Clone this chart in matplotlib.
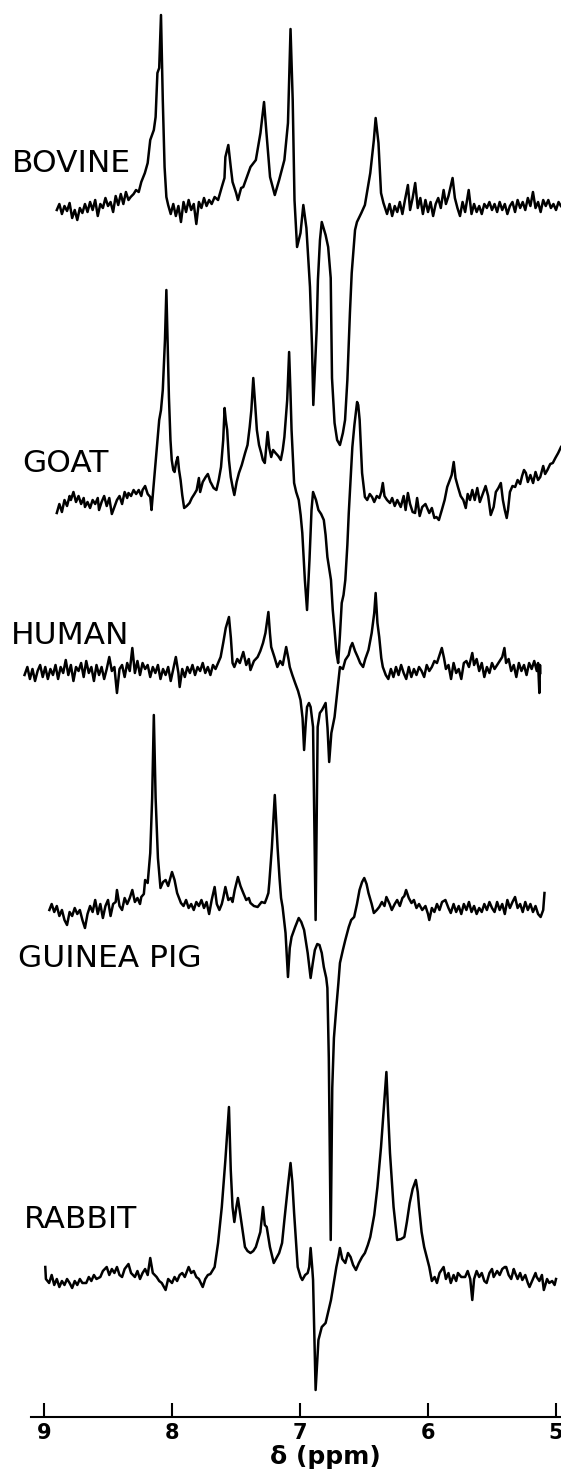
import matplotlib
matplotlib.use("Agg")
import matplotlib.pyplot as plt
import numpy as np

# ---- data: (ppm, intensity relative to each trace's own baseline) ----
bovine = [(8.90,-2),(8.88,4),(8.86,-6),(8.84,2),(8.82,-3),(8.80,5),(8.78,-10),(8.76,-2),(8.74,-12),(8.72,0),
 (8.70,-5),(8.68,4),(8.66,-4),(8.64,6),(8.62,-2),(8.60,8),(8.58,-8),(8.56,4),(8.54,0),(8.52,10),(8.50,2),(8.48,6),
 (8.46,-4),(8.44,12),(8.42,3),(8.40,14),(8.38,4),(8.36,16),(8.34,8),(8.323,11),(8.30,14),(8.281,18),(8.26,16),
 (8.240,26),(8.212,35),(8.19,45),(8.170,68),(8.142,78),(8.128,91),(8.114,135),(8.10,140),(8.086,193),(8.072,108),
 (8.058,41),(8.044,11),(8.030,3),(8.01,-6),(7.99,4),(7.97,-8),(7.95,2),(7.93,-14),(7.91,6),(7.89,-4),(7.87,8),
 (7.85,-2),(7.83,4),(7.81,-16),(7.79,6),(7.77,0),(7.75,10),(7.73,2),(7.71,8),(7.69,4),(7.667,11),(7.64,8),
 (7.611,21),(7.59,30),(7.583,51),(7.560,63),(7.541,41),(7.527,26),(7.499,15),(7.485,8),(7.46,20),(7.443,21),
 (7.415,31),(7.387,41),(7.345,48),(7.309,75),(7.281,106),(7.262,75),(7.234,31),(7.197,13),(7.163,28),(7.122,48),
 (7.094,85),(7.074,179),(7.057,108),(7.043,8),(7.023,-39),(6.996,-25),(6.974,3),(6.950,-20),(6.922,-79),
 (6.906,-139),(6.896,-197),(6.870,-122),(6.860,-72),(6.844,-32),(6.830,-14),(6.800,-27),(6.780,-39),
 (6.760,-70),(6.750,-170),(6.730,-215),(6.710,-232),(6.688,-237),(6.665,-225),(6.648,-212),(6.630,-172),
 (6.610,-105),(6.596,-65),(6.570,-22),(6.555,-14),(6.521,-5),(6.493,3),(6.451,35),
 (6.423,68),(6.409,90),(6.387,65),(6.367,15),(6.348,5),(6.32,-6),(6.30,4),(6.28,-8),(6.26,2),(6.24,-4),(6.22,6),
 (6.20,-6),(6.18,8),(6.157,23),(6.14,-2),(6.12,10),(6.10,25),(6.08,0),(6.06,10),(6.04,-6),(6.02,8),(6.00,-4),
 (5.98,6),(5.96,-8),(5.94,4),(5.92,10),(5.90,0),(5.878,18),(5.86,4),(5.84,12),(5.808,30),(5.79,10),(5.77,0),
 (5.75,-8),(5.73,6),(5.71,-4),(5.682,18),(5.66,-6),(5.64,4),(5.62,-4),(5.60,2),(5.58,-6),(5.56,4),(5.54,0),
 (5.52,6),(5.50,-2),(5.48,4),(5.46,-4),(5.44,6),(5.42,-2),(5.40,4),(5.38,-6),(5.36,2),(5.34,6),(5.32,-4),
 (5.30,8),(5.28,0),(5.26,6),(5.24,-2),(5.22,10),(5.20,2),(5.18,16),(5.16,0),(5.14,6),(5.12,-4),(5.10,8),
 (5.08,2),(5.06,8),(5.04,0),(5.02,4),(5.00,-2),(4.98,6),(4.962,2)]

goat = [(8.90,-13),(8.88,-4),(8.86,-12),(8.84,0),(8.82,-6),(8.80,4),(8.79,0),(8.77,8),(8.75,-2),(8.73,4),
 (8.71,-4),(8.69,2),(8.68,-7),(8.66,-2),(8.64,-8),(8.62,0),(8.60,-4),(8.58,2),(8.57,-10),(8.55,-2),(8.53,4),
 (8.51,-6),(8.49,2),(8.47,-14),(8.45,-7),(8.43,0),(8.41,4),(8.39,-4),(8.37,8),(8.35,2),(8.34,7),(8.32,4),
 (8.30,10),(8.28,6),(8.26,10),(8.24,4),(8.23,10),(8.21,14),(8.19,6),(8.17,3),(8.16,-10),(8.14,20),(8.12,50),
 (8.100,80),(8.086,90),(8.072,110),(8.055,160),(8.044,210),(8.035,160),(8.024,103),(8.012,60),(8.002,40),
 (7.990,30),(7.980,28),(7.967,38),(7.955,43),(7.945,30),(7.933,20),(7.920,5),(7.905,-8),(7.885,-6),(7.863,-3),
 (7.845,2),(7.825,6),(7.807,10),(7.79,22),(7.78,8),(7.76,18),(7.737,23),(7.72,26),(7.70,18),(7.695,17),
 (7.675,12),(7.653,10),(7.635,20),(7.617,33),(7.60,60),(7.589,92),(7.580,80),(7.569,70),(7.555,40),(7.541,23),
 (7.525,12),(7.513,5),(7.495,18),(7.477,27),(7.455,35),(7.44,42),(7.429,47),(7.41,55),(7.393,73),(7.380,90),
 (7.365,122),(7.350,95),(7.337,70),(7.32,55),(7.303,47),(7.29,40),(7.275,37),(7.253,68),(7.24,52),(7.225,43),
 (7.21,50),(7.191,47),(7.17,44),(7.150,40),(7.135,50),(7.122,63),(7.10,100),(7.085,148),(7.075,110),(7.066,70),
 (7.046,17),(7.030,8),(7.010,0),(6.995,-15),(6.982,-33),(6.962,-80),(6.945,-110),(6.926,-60),(6.910,-10),
 (6.898,8),(6.875,0),(6.856,-10),(6.835,-14),(6.814,-20),(6.800,-35),(6.786,-57),(6.770,-70),(6.758,-80),
 (6.744,-110),(6.730,-130),(6.715,-153),(6.702,-163),(6.688,-135),(6.674,-103),(6.660,-95),(6.646,-80),
 (6.630,-45),(6.619,-13),(6.605,20),(6.591,53),(6.575,75),(6.554,98),(6.545,95),(6.534,80),(6.515,27),
 (6.493,3),(6.475,0),(6.455,6),(6.437,3),(6.42,-2),(6.40,4),(6.38,2),(6.365,8),(6.353,17),(6.34,4),(6.32,0),
 (6.297,-3),(6.28,2),(6.26,-6),(6.24,0),(6.213,-7),(6.19,4),(6.175,-10),(6.157,7),(6.14,-4),(6.12,-12),
 (6.101,-13),(6.085,2),(6.065,-16),(6.045,-7),(6.02,-4),(5.990,-13),(5.97,-8),(5.95,-18),(5.934,-17),
 (5.915,-20),(5.892,-10),(5.870,0),(5.850,13),(5.830,20),(5.815,25),(5.799,38),(5.785,22),(5.766,13),
 (5.745,4),(5.724,0),(5.705,-8),(5.69,6),(5.672,0),(5.654,10),(5.635,0),(5.615,12),(5.595,-2),(5.570,7),
 (5.55,14),(5.53,4),(5.510,-15),(5.487,-7),(5.47,8),(5.45,12),(5.431,17),(5.415,0),(5.400,-10),(5.385,-18),
 (5.375,-10),(5.36,8),(5.340,14),(5.319,13),(5.30,20),(5.28,16),(5.265,24),(5.250,30),(5.235,27),(5.22,18),
 (5.20,25),(5.179,17),(5.16,28),(5.14,20),(5.123,23),(5.10,34),(5.085,26),(5.067,30),(5.045,36),(5.025,37),
 (5.005,42),(4.983,47),(4.961,53)]

human = [(9.152,-2),(9.13,6),(9.11,-6),(9.09,4),(9.07,-8),(9.05,2),(9.03,8),(9.01,-4),(8.99,6),(8.97,-6),
 (8.95,4),(8.93,-2),(8.91,8),(8.89,-6),(8.87,6),(8.85,0),(8.83,13),(8.81,-2),(8.79,8),(8.77,-8),(8.75,6),
 (8.73,2),(8.71,10),(8.69,-4),(8.67,12),(8.65,0),(8.63,6),(8.61,-8),(8.59,8),(8.57,-2),(8.55,6),(8.53,-6),
 (8.51,4),(8.49,16),(8.47,2),(8.45,6),(8.43,-20),(8.41,4),(8.39,8),(8.37,-4),(8.35,10),(8.33,2),(8.31,25),
 (8.29,0),(8.27,12),(8.25,-2),(8.23,10),(8.21,4),(8.19,8),(8.17,-4),(8.15,6),(8.13,0),(8.11,8),(8.09,-6),
 (8.07,4),(8.05,-2),(8.03,6),(8.01,-8),(7.99,4),(7.97,16),(7.95,0),(7.94,-14),(7.92,4),(7.90,-4),(7.88,6),
 (7.86,0),(7.84,8),(7.82,-2),(7.80,6),(7.78,2),(7.76,10),(7.74,0),(7.72,6),(7.70,-2),(7.68,8),(7.66,4),
 (7.64,10),(7.62,16),(7.60,30),(7.58,45),(7.555,56),(7.54,35),(7.527,10),(7.513,6),(7.49,14),(7.47,10),
 (7.443,21),(7.42,8),(7.40,14),(7.387,3),(7.36,12),(7.331,16),(7.31,22),(7.289,30),(7.27,40),(7.247,61),
 (7.235,40),(7.225,26),(7.20,16),(7.177,6),(7.155,12),(7.135,8),(7.12,18),(7.108,26),(7.09,14),(7.080,6),
 (7.06,-2),(7.038,-10),(7.015,-18),(6.996,-27),(6.98,-45),(6.968,-77),(6.955,-50),(6.945,-34),(6.93,-30),
 (6.917,-34),(6.898,-54),(6.878,-247),(6.862,-54),(6.845,-40),(6.828,-37),(6.80,-30),(6.785,-55),(6.772,-89),
 (6.755,-60),(6.730,-44),(6.71,-20),(6.688,6),(6.665,4),(6.646,13),(6.62,18),(6.605,26),(6.591,30),(6.57,22),
 (6.549,16),(6.53,10),(6.507,6),(6.49,14),(6.465,23),(6.44,40),(6.420,60),(6.409,80),(6.395,50),(6.381,36),
 (6.365,15),(6.353,6),(6.33,-2),(6.31,-6),(6.29,4),(6.27,-4),(6.25,6),(6.23,-2),(6.21,8),(6.19,0),(6.17,-6),
 (6.15,6),(6.13,-4),(6.11,4),(6.09,-2),(6.07,6),(6.05,2),(6.03,-4),(6.01,8),(5.99,2),(5.97,6),(5.95,12),
 (5.93,10),(5.91,18),(5.892,25),(5.875,15),(5.86,4),(5.84,8),(5.82,-6),(5.80,10),(5.78,0),(5.76,4),(5.74,-6),
 (5.72,10),(5.70,12),(5.68,6),(5.654,20),(5.64,8),(5.62,14),(5.60,2),(5.58,10),(5.56,-4),(5.54,6),(5.52,0),
 (5.50,10),(5.48,4),(5.46,8),(5.44,12),(5.42,16),(5.403,25),(5.39,10),(5.37,14),(5.35,2),(5.33,8),(5.31,-4),
 (5.29,10),(5.27,2),(5.25,8),(5.23,-2),(5.21,10),(5.19,4),(5.17,12),(5.15,2),(5.14,10),(5.13,-20),(5.125,8),
 (5.123,0)]

guinea_pig = [(8.958,-2),(8.94,4),(8.92,-4),(8.90,2),(8.88,-8),(8.86,-2),(8.84,-12),(8.82,-17),(8.80,-4),
 (8.78,-8),(8.76,0),(8.74,-6),(8.72,-2),(8.70,-12),(8.68,-20),(8.66,-6),(8.64,2),(8.62,-4),(8.60,8),(8.58,-6),
 (8.56,4),(8.54,-10),(8.52,2),(8.50,8),(8.48,-8),(8.46,4),(8.44,6),(8.43,18),(8.41,2),(8.39,-2),(8.37,10),
 (8.35,4),(8.33,10),(8.31,18),(8.29,6),(8.27,10),(8.25,4),(8.24,11),(8.22,14),(8.21,28),(8.19,25),(8.17,55),
 (8.155,110),(8.142,193),(8.128,110),(8.11,50),(8.09,20),(8.07,26),(8.05,28),(8.03,22),(8.00,36),(7.98,28),
 (7.96,15),(7.93,5),(7.91,2),(7.89,8),(7.87,0),(7.85,4),(7.83,-2),(7.81,6),(7.79,2),(7.77,8),(7.75,0),
 (7.73,6),(7.71,-6),(7.69,8),(7.667,21),(7.65,4),(7.63,-2),(7.611,4),(7.60,10),(7.583,21),(7.56,8),(7.54,10),
 (7.527,6),(7.51,18),(7.485,31),(7.465,22),(7.443,15),(7.42,8),(7.40,10),(7.387,5),(7.36,2),(7.331,1),
 (7.30,6),(7.275,5),(7.26,10),(7.247,15),(7.24,25),(7.22,60),(7.197,113),(7.175,60),(7.16,30),(7.148,10),
 (7.136,1),(7.113,-25),(7.094,-69),(7.08,-40),(7.066,-29),(7.038,-19),(7.010,-10),(6.99,-14),(6.968,-22),
 (6.940,-45),(6.917,-70),(6.90,-55),(6.884,-42),(6.865,-36),(6.848,-37),(6.83,-45),(6.814,-59),(6.795,-70),
 (6.786,-80),(6.775,-150),(6.760,-332),(6.748,-180),(6.735,-130),(6.716,-99),(6.70,-75),(6.688,-55),
 (6.665,-42),(6.646,-32),(6.619,-19),(6.60,-12),(6.577,-9),(6.555,4),(6.535,18),(6.515,26),(6.498,30),
 (6.48,24),(6.465,15),(6.44,4),(6.423,-5),(6.40,-2),(6.381,1),(6.36,6),(6.34,2),(6.325,11),(6.30,4),
 (6.283,-2),(6.26,4),(6.241,8),(6.22,2),(6.20,10),(6.185,12),(6.171,18),(6.15,10),(6.129,5),(6.11,8),
 (6.09,0),(6.07,4),(6.045,-2),(6.02,2),(6.00,-6),(5.990,-12),(5.97,0),(5.95,-4),(5.93,4),(5.91,-2),(5.89,6),
 (5.864,8),(5.84,0),(5.822,-5),(5.80,4),(5.78,-4),(5.76,2),(5.74,-6),(5.72,4),(5.70,-2),(5.68,6),(5.66,-4),
 (5.64,2),(5.62,-6),(5.60,0),(5.58,-4),(5.56,4),(5.54,-2),(5.52,6),(5.50,0),(5.48,-4),(5.46,6),(5.44,-2),
 (5.42,4),(5.40,-6),(5.38,8),(5.36,0),(5.34,6),(5.32,11),(5.30,0),(5.28,4),(5.26,-4),(5.24,6),(5.22,-2),
 (5.20,4),(5.18,-4),(5.16,2),(5.14,-6),(5.12,-9),(5.10,-2),(5.09,15)]

rabbit = [(8.99,10),(8.985,-2),(8.96,-6),(8.94,2),(8.92,-8),(8.90,-2),(8.88,-10),(8.86,-4),(8.84,-8),
 (8.82,-2),(8.80,-6),(8.78,-11),(8.76,-4),(8.74,-8),(8.72,-2),(8.70,-6),(8.67,-6),(8.65,0),(8.63,-4),(8.61,2),
 (8.59,-2),(8.56,0),(8.54,6),(8.51,10),(8.49,2),(8.47,8),(8.45,4),(8.43,10),(8.41,2),(8.39,0),(8.37,8),
 (8.34,13),(8.32,4),(8.29,0),(8.27,6),(8.25,-2),(8.23,4),(8.21,8),(8.19,2),(8.17,19),(8.15,4),(8.12,0),
 (8.10,-4),(8.08,-6),(8.05,-13),(8.03,-2),(8.00,-6),(7.98,0),(7.96,-4),(7.94,2),(7.92,4),(7.90,0),(7.87,10),
 (7.85,4),(7.83,6),(7.81,0),(7.79,-2),(7.76,-10),(7.74,-2),(7.72,2),(7.70,3),(7.667,10),(7.64,34),(7.611,70),
 (7.583,117),(7.555,170),(7.541,107),(7.527,70),(7.513,55),(7.497,70),(7.485,79),(7.46,57),(7.43,30),
 (7.41,26),(7.387,24),(7.365,26),(7.345,30),(7.31,45),(7.289,70),(7.275,52),(7.26,50),(7.235,30),(7.205,14),
 (7.18,20),(7.163,24),(7.14,34),(7.122,57),(7.095,90),(7.074,114),(7.06,95),(7.046,64),(7.018,10),(6.995,0),
 (6.982,-3),(6.96,2),(6.940,4),(6.928,10),(6.917,29),(6.905,10),(6.898,-3),(6.878,-113),(6.856,-63),
 (6.83,-50),(6.800,-46),(6.78,-35),(6.758,-23),(6.735,-5),(6.716,10),(6.700,20),(6.688,29),(6.67,18),
 (6.646,14),(6.625,24),(6.605,20),(6.585,12),(6.563,7),(6.54,14),(6.515,20),(6.493,24),(6.47,32),(6.451,40),
 (6.42,62),(6.395,90),(6.367,130),(6.345,170),(6.325,205),(6.31,160),(6.297,124),(6.269,70),(6.241,37),
 (6.21,38),(6.185,40),(6.165,55),(6.143,74),(6.12,88),(6.095,97),(6.08,85),(6.07,70),(6.05,45),(6.03,30),
 (6.01,20),(5.99,10),(5.97,-4),(5.948,0),(5.93,-6),(5.91,4),(5.878,10),(5.86,-2),(5.84,4),(5.822,-6),
 (5.80,2),(5.78,-4),(5.766,4),(5.74,0),(5.71,0),(5.69,6),(5.67,-2),(5.654,-23),(5.64,-2),(5.62,6),(5.60,0),
 (5.58,4),(5.56,-4),(5.542,-6),(5.52,4),(5.50,8),(5.487,0),(5.46,6),(5.44,2),(5.42,8),(5.40,10),(5.389,10),
 (5.37,2),(5.35,-2),(5.33,8),(5.319,4),(5.30,-2),(5.28,4),(5.263,-3),(5.24,2),(5.22,-6),(5.207,-10),
 (5.18,-2),(5.16,4),(5.151,0),(5.13,-4),(5.11,2),(5.095,-13),(5.07,-2),(5.053,-6),(5.03,-4),(5.011,-8),
 (5.00,-2)]

species = ["BOVINE", "GOAT", "HUMAN", "GUINEA PIG", "RABBIT"]
traces = [bovine, goat, human, guinea_pig, rabbit]
tick_ppm = [9, 8, 7, 6, 5]
tick_labels = ["9", "8", "7", "6", "5"]

# ---- layout (positions / styles) ----
W, H, DPI = 561, 1470, 100
baselines = [208, 500, 673, 908, 1277]          # vertical offset of each trace
label_pos = [(9.25, 163), (9.172, 463), (9.258, 635), (9.203, 958), (9.156, 1219)]
axis_y = 1417

fig = plt.figure(figsize=(W / DPI, H / DPI), dpi=DPI)
ax = fig.add_axes([0, 0, 1, 1])
ax.set_xlim(9 + 44 / 128, 9 - 517 / 128)
ax.set_ylim(H, 0)

for tr, base, name, (lx, ly) in zip(traces, baselines, species, label_pos):
    arr = np.array(tr, dtype=float)
    ax.plot(arr[:, 0], base - arr[:, 1], color="black", lw=1.8, solid_joinstyle="round")
    ax.text(lx, ly, name, ha="left", va="center", fontsize=22.5, color="black",
            family="DejaVu Sans")

for s in ["top", "left", "right"]:
    ax.spines[s].set_visible(False)
ax.spines["bottom"].set_position(("data", axis_y))
ax.spines["bottom"].set_bounds(9.1, 4.96)
ax.spines["bottom"].set_linewidth(1.5)
ax.set_xticks(tick_ppm)
ax.set_xticklabels(tick_labels)
ax.tick_params(axis="x", direction="in", length=10, width=1.5, pad=4,
               labelsize=15)
for t in ax.get_xticklabels():
    t.set_fontweight("bold")
ax.set_yticks([])
ax.text(6.80, 1457, "δ (ppm)", ha="center", va="center", fontsize=18, fontweight="bold")

fig.savefig("out.png", dpi=DPI)
